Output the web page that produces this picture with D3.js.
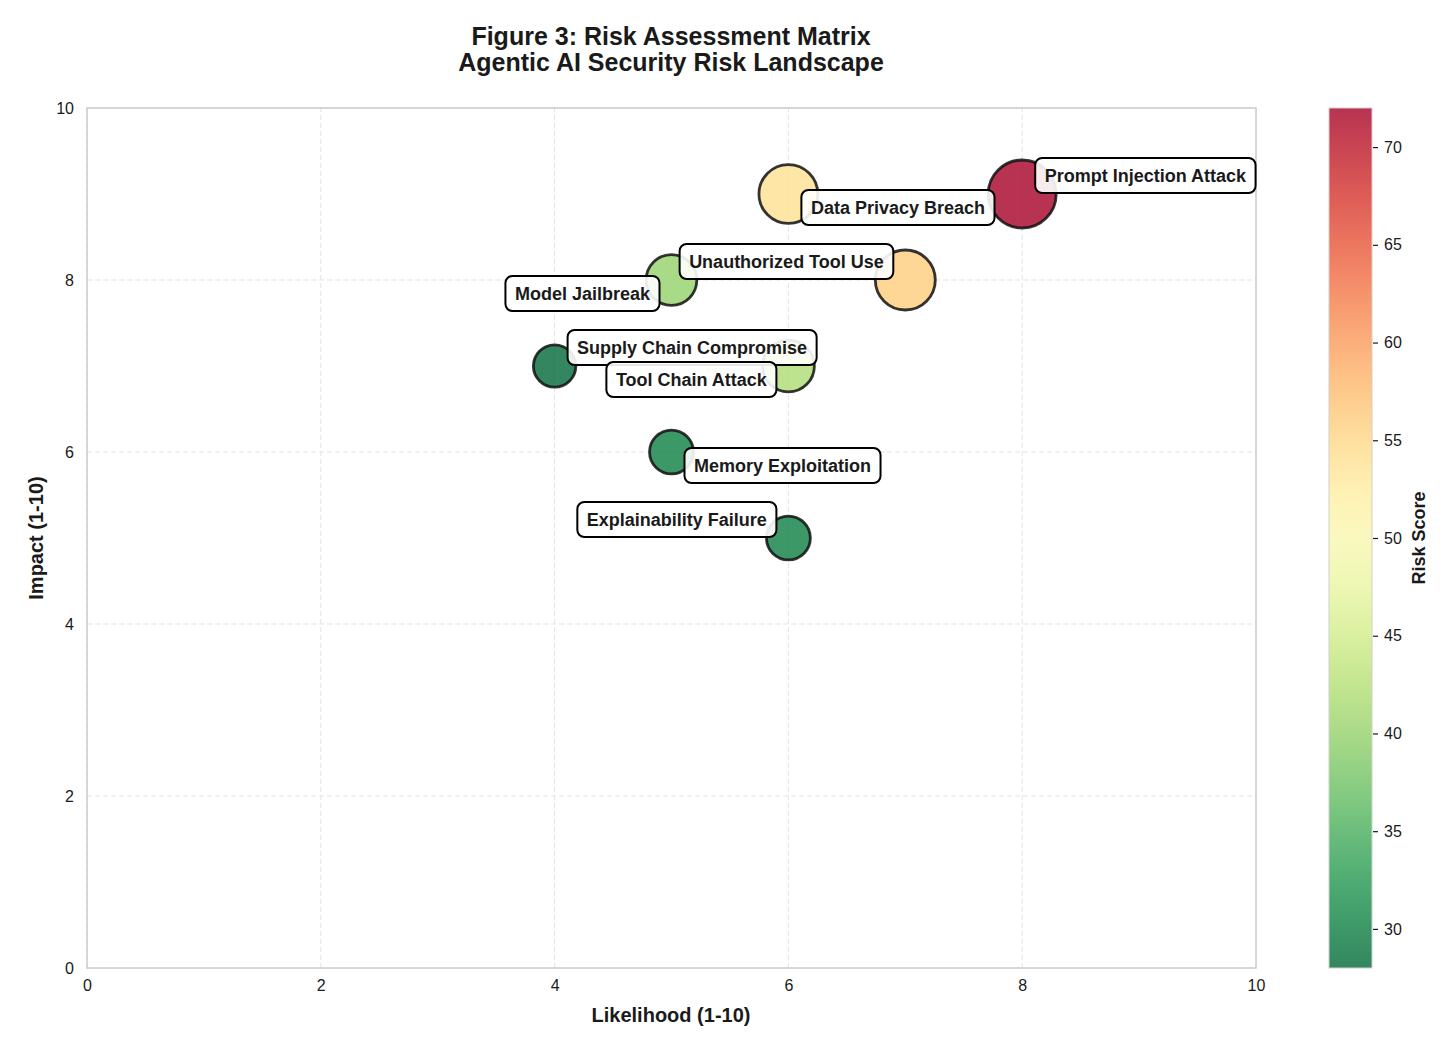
<!DOCTYPE html>
<html>
<head>
<meta charset="utf-8">
<script src="https://cdn.jsdelivr.net/npm/d3@7"></script>
<style>
    body { margin: 0; background: #fff; }
    svg { font-family: "Liberation Sans", Arial, sans-serif; }
</style>
</head>
<body>
<svg id="chart" width="1456" height="1052"></svg>
<script>
// Risk data
var riskNames = [
    "Prompt Injection Attack",
    "Data Privacy Breach",
    "Unauthorized Tool Use",
    "Model Jailbreak",
    "Supply Chain Compromise",
    "Tool Chain Attack",
    "Memory Exploitation",
    "Explainability Failure"
];
var likelihood = [8, 6, 7, 5, 4, 6, 5, 6];
var impact = [9, 9, 8, 8, 7, 7, 6, 5];
var riskScore = [72, 54, 56, 40, 28, 42, 30, 30];

// which corner each label sits in
var labelPlacement = ["ne", "se", "nw", "sw", "ne", "sw", "se", "nw"];

var axisTicks = [0, 2, 4, 6, 8, 10];
var colorbarTicks = [30, 35, 40, 45, 50, 55, 60, 65, 70];

var svg = d3.select("#chart");

var xScale = d3.scaleLinear().domain([0, 10]).range([87, 1256]);
var yScale = d3.scaleLinear().domain([0, 10]).range([968, 108]);
var sizeScale = d3.scaleSqrt().domain([0, 72]).range([0, 34]);

var riskMin = d3.min(riskScore), riskMax = d3.max(riskScore);
var colorOf = function (v) {
    return d3.interpolateRdYlGn(1 - (v - riskMin) / (riskMax - riskMin));
};

// Title
svg.append("text")
    .attr("x", 671).attr("y", 45)
    .attr("text-anchor", "middle")
    .style("font-size", "25px").style("font-weight", "bold").style("fill", "#1a1a1a")
    .text("Figure 3: Risk Assessment Matrix");
svg.append("text")
    .attr("x", 671).attr("y", 71)
    .attr("text-anchor", "middle")
    .style("font-size", "25px").style("font-weight", "bold").style("fill", "#1a1a1a")
    .text("Agentic AI Security Risk Landscape");

// Grid
var grid = svg.append("g");
grid.selectAll("line.vx")
    .data(axisTicks)
    .enter().append("line")
    .attr("x1", d => xScale(d)).attr("x2", d => xScale(d))
    .attr("y1", yScale(0)).attr("y2", yScale(10))
    .style("stroke", "#e3e3e3").style("stroke-width", 1).style("stroke-dasharray", "5,3");
grid.selectAll("line.hy")
    .data(axisTicks)
    .enter().append("line")
    .attr("y1", d => yScale(d)).attr("y2", d => yScale(d))
    .attr("x1", xScale(0)).attr("x2", xScale(10))
    .style("stroke", "#e3e3e3").style("stroke-width", 1).style("stroke-dasharray", "5,3");

// Frame
svg.append("rect")
    .attr("x", xScale(0)).attr("y", yScale(10))
    .attr("width", xScale(10) - xScale(0))
    .attr("height", yScale(0) - yScale(10))
    .style("fill", "none").style("stroke", "#cccccc").style("stroke-width", 1.5);

// Axes
var xAxis = svg.append("g")
    .attr("transform", "translate(0," + yScale(0) + ")")
    .call(d3.axisBottom(xScale).tickValues(axisTicks).tickSize(0).tickPadding(12));
var yAxis = svg.append("g")
    .attr("transform", "translate(" + xScale(0) + ",0)")
    .call(d3.axisLeft(yScale).tickValues(axisTicks).tickSize(0).tickPadding(13));
[xAxis, yAxis].forEach(function (ax) {
    ax.select(".domain").remove();
    ax.selectAll("text").style("font-size", "16px").style("fill", "#1a1a1a")
        .style("font-family", "'Liberation Sans', Arial, sans-serif");
});

svg.append("text")
    .attr("x", 671).attr("y", 1022)
    .attr("text-anchor", "middle")
    .style("font-size", "20px").style("font-weight", "bold").style("fill", "#1a1a1a")
    .text("Likelihood (1-10)");
svg.append("text")
    .attr("transform", "translate(43,538) rotate(-90)")
    .attr("text-anchor", "middle")
    .style("font-size", "20px").style("font-weight", "bold").style("fill", "#1a1a1a")
    .text("Impact (1-10)");

// Bubbles
var idx = d3.range(riskNames.length);
svg.append("g").selectAll("circle")
    .data(idx)
    .enter().append("circle")
    .attr("cx", i => xScale(likelihood[i]))
    .attr("cy", i => yScale(impact[i]))
    .attr("r", i => sizeScale(riskScore[i]))
    .style("fill", i => colorOf(riskScore[i]))
    .style("fill-opacity", 0.8)
    .style("stroke", "#111")
    .style("stroke-opacity", 0.85)
    .style("stroke-width", 2.8);

// Labels
var labels = svg.append("g");
idx.forEach(function (i) {
    var cx = xScale(likelihood[i]), cy = yScale(impact[i]);
    var pos = labelPlacement[i];
    var g = labels.append("g");
    var box = g.append("rect");
    var t = g.append("text")
        .style("font-size", "18px").style("font-weight", "bold").style("fill", "#1a1a1a")
        .text(riskNames[i]);
    var w = t.node().getComputedTextLength() + 19;
    var h = 35;
    var left = pos[1] === "e" ? cx + 13 : cx - 12 - w;
    var top = pos[0] === "n" ? cy - 1 - h : cy - 4;
    box.attr("x", left).attr("y", top).attr("width", w).attr("height", h)
        .attr("rx", 7)
        .style("fill", "#fff").style("fill-opacity", 0.9)
        .style("stroke", "#000").style("stroke-width", 2);
    t.attr("x", left + 9.5).attr("y", top + 23.5);
});

// Colorbar
var cbScale = d3.scaleLinear().domain([riskMin, riskMax]).range([968, 108]);
var grad = svg.append("defs").append("linearGradient")
    .attr("id", "cbGrad")
    .attr("x1", 0).attr("y1", 1).attr("x2", 0).attr("y2", 0);
grad.selectAll("stop")
    .data(d3.range(0, 1.0001, 0.05))
    .enter().append("stop")
    .attr("offset", d => d)
    .attr("stop-color", d => d3.interpolateRdYlGn(1 - d))
    .attr("stop-opacity", 0.8);
svg.append("rect")
    .attr("x", 1329).attr("y", cbScale(riskMax))
    .attr("width", 43).attr("height", cbScale(riskMin) - cbScale(riskMax))
    .style("fill", "url(#cbGrad)")
    .style("stroke", "#d0d0d0").style("stroke-width", 1);
var cbAxis = svg.append("g")
    .attr("transform", "translate(1373,0)")
    .call(d3.axisRight(cbScale).tickValues(colorbarTicks).tickSize(5).tickPadding(6));
cbAxis.select(".domain").remove();
cbAxis.selectAll("line").style("stroke", "#1a1a1a").style("stroke-width", 1.2);
cbAxis.selectAll("text").style("font-size", "16px").style("fill", "#1a1a1a")
    .style("font-family", "'Liberation Sans', Arial, sans-serif");
svg.append("text")
    .attr("transform", "translate(1425,538) rotate(-90)")
    .attr("text-anchor", "middle")
    .style("font-size", "18px").style("font-weight", "bold").style("fill", "#1a1a1a")
    .text("Risk Score");
</script>
</body>
</html>
